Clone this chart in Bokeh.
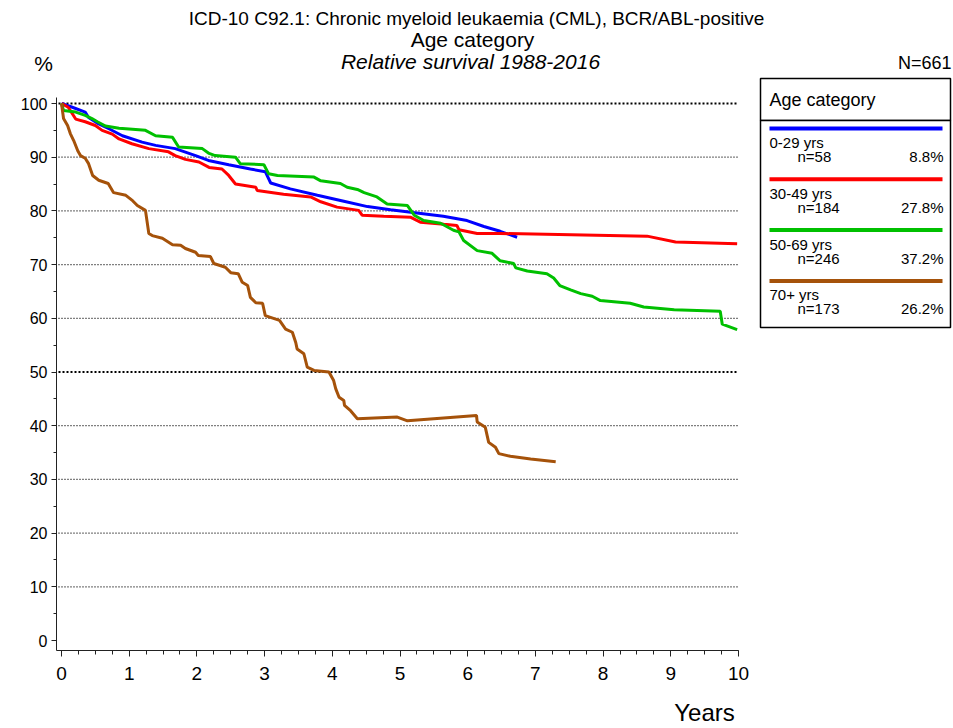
from bokeh.plotting import figure
from bokeh.models import Range1d, Label, SingleIntervalTicker, LinearAxis
from bokeh.embed import file_html
from bokeh.resources import INLINE

# ---------------- data ----------------
title_lines = ["ICD-10 C92.1: Chronic myeloid leukaemia (CML), BCR/ABL-positive",
               "Age category",
               "Relative survival 1988-2016"]
total_n = "N=661"
legend_title = "Age category"
groups = ["0-29 yrs", "30-49 yrs", "50-69 yrs", "70+ yrs"]
group_n = [58, 184, 246, 173]
group_pct = ["8.8%", "27.8%", "37.2%", "26.2%"]
colors = ["#0000FF", "#FF0000", "#00C000", "#A5520A"]

blue_x = [0, 0.16, 0.35, 0.40, 0.55, 0.70, 0.90, 1.19, 1.39, 1.68, 1.98, 2.17, 2.47, 2.79, 3.01,
          3.09, 3.38, 3.78, 4.17, 4.52, 4.86, 5.25, 5.64, 5.99, 6.24, 6.48, 6.73]
blue_y = [100, 99.3, 98.4, 97.4, 96.2, 95.3, 94.0, 92.8, 92.2, 91.6, 90.3, 89.4, 88.6, 87.8, 87.3,
          85.2, 84.1, 82.9, 81.8, 80.8, 80.2, 79.6, 79.0, 78.2, 77.1, 76.2, 75.1]

red_x = [0, 0.10, 0.16, 0.21, 0.35, 0.50, 0.60, 0.75, 0.85, 1.04, 1.29, 1.58, 1.68, 1.83, 2.03,
         2.18, 2.37, 2.47, 2.57, 2.87, 2.89, 3.28, 3.68, 3.83, 4.07, 4.39, 4.44, 4.76, 5.16, 5.30,
         5.65, 5.84, 5.87, 6.14, 6.48, 8.65, 9.07, 9.98]
red_y = [100, 99.3, 98.1, 97.1, 96.6, 95.9, 95.0, 94.3, 93.4, 92.5, 91.6, 91.0, 90.3, 89.6, 89.1,
         88.1, 87.8, 86.6, 85.0, 84.4, 83.8, 83.1, 82.6, 81.7, 80.7, 80.1, 79.2, 79.0, 78.8, 77.9,
         77.5, 77.3, 76.5, 75.8, 75.8, 75.3, 74.2, 73.9]

green_x = [0, 0.03, 0.21, 0.35, 0.45, 0.53, 0.65, 0.85, 0.95, 1.24, 1.39, 1.64, 1.73, 2.08, 2.18,
           2.27, 2.57, 2.64, 2.99, 3.06, 3.19, 3.73, 3.83, 4.12, 4.22, 4.37, 4.47, 4.66, 4.81, 5.11,
           5.21, 5.35, 5.60, 5.79, 5.87, 5.94, 6.14, 6.36, 6.48, 6.68, 6.71, 6.88, 7.17, 7.27, 7.36,
           7.52, 7.67, 7.84, 7.96, 8.40, 8.60, 9.05, 9.73, 9.76, 9.98]
green_y = [100, 98.7, 98.4, 97.8, 97.2, 96.6, 95.8, 95.4, 95.3, 95.0, 94.0, 93.7, 91.9, 91.6, 90.7,
           90.3, 90.0, 88.8, 88.6, 86.9, 86.6, 86.3, 85.6, 85.1, 84.4, 84.0, 83.4, 82.6, 81.3, 81.0,
           79.2, 78.2, 77.7, 76.4, 76.1, 74.5, 72.6, 72.1, 70.7, 70.2, 69.4, 68.8, 68.3, 67.5, 66.1,
           65.3, 64.6, 64.1, 63.3, 62.8, 62.1, 61.6, 61.3, 58.9, 57.9]

brown_x = [0, 0.03, 0.09, 0.13, 0.18, 0.24, 0.28, 0.35, 0.40, 0.46, 0.55, 0.69, 0.77, 0.95, 1.05,
           1.12, 1.24, 1.29, 1.34, 1.49, 1.64, 1.76, 1.83, 1.98, 2.02, 2.20, 2.25, 2.42, 2.50, 2.61,
           2.67, 2.75, 2.79, 2.87, 2.97, 3.01, 3.22, 3.31, 3.41, 3.46, 3.48, 3.58, 3.63, 3.73, 3.95,
           4.02, 4.05, 4.10, 4.17, 4.18, 4.27, 4.37, 4.96, 5.11, 6.13, 6.14, 6.26, 6.31, 6.41, 6.46,
           6.63, 6.93, 7.30]
brown_y = [100, 97.2, 95.9, 94.4, 93.1, 91.2, 90.3, 89.8, 88.8, 86.6, 85.7, 85.1, 83.4, 82.9, 81.9,
           81.0, 80.1, 75.8, 75.4, 74.9, 73.7, 73.6, 73.0, 72.3, 71.7, 71.5, 70.2, 69.5, 68.5, 68.3,
           66.7, 66.1, 63.9, 62.9, 62.8, 60.5, 59.6, 58.0, 57.4, 55.5, 54.3, 53.4, 50.9, 50.3, 50.0,
           48.4, 46.9, 45.3, 44.7, 43.8, 42.8, 41.3, 41.6, 40.9, 41.9, 40.7, 39.7, 36.9, 36.0, 34.8,
           34.3, 33.8, 33.3]

series_x = [blue_x, red_x, green_x, brown_x]
series_y = [blue_y, red_y, green_y, brown_y]

grid_levels = [10, 20, 30, 40, 60, 70, 80, 90]
bold_levels = [50, 100]
x_max = 10

FONT = "Liberation Sans"

# ------------- geometry helpers (canvas px -> data) -------------
W, H = 952, 726
X0, XS = 61.0, 67.7      # px of year 0, px per year
Y0, YS = 640.0, 5.37     # px of 0 %, px per %


def dx(px):
    return (px - X0) / XS


def dy(py):
    return (Y0 - py) / YS


p = figure(width=W, height=H, output_backend="svg", toolbar_location=None,
           x_range=Range1d(dx(0), dx(W)), y_range=Range1d(dy(H), dy(0)),
           x_axis_location=None, y_axis_location=None,
           min_border=0, min_border_left=0, min_border_right=0, min_border_top=0, min_border_bottom=0)
p.outline_line_color = None
p.background_fill_color = "white"
p.border_fill_color = "white"
p.grid.visible = False

# axes placed at fixed locations inside the frame
xaxis = LinearAxis(fixed_location=dy(650), bounds=(dx(56), x_max),
                   ticker=SingleIntervalTicker(interval=1, num_minor_ticks=4))
yaxis = LinearAxis(fixed_location=dx(56), bounds=(dy(650), dy(97)),
                   ticker=SingleIntervalTicker(interval=10, num_minor_ticks=2))
for ax in (xaxis, yaxis):
    ax.axis_line_color = "#222222"
    ax.axis_line_width = 1
    ax.major_tick_line_color = "#222222"
    ax.minor_tick_line_color = "#222222"
    ax.major_tick_in = 0
    ax.minor_tick_in = 0
    ax.major_label_text_font = FONT
    ax.major_label_text_color = "black"
xaxis.major_label_text_font_size = "19px"
yaxis.major_label_text_font_size = "16px"
xaxis.major_tick_out = 6
xaxis.minor_tick_out = 4
yaxis.major_tick_out = 5
yaxis.minor_tick_out = 3
xaxis.major_label_standoff = 10
yaxis.major_label_standoff = 4
p.add_layout(xaxis, "below")
p.add_layout(yaxis, "left")

# dotted reference lines
gx0 = dx(58)
p.segment(x0=[gx0] * len(grid_levels), y0=grid_levels, x1=[x_max] * len(grid_levels), y1=grid_levels,
          line_color="black", line_width=1.2, line_dash="1 2")
p.segment(x0=[gx0] * len(bold_levels), y0=bold_levels, x1=[x_max] * len(bold_levels), y1=bold_levels,
          line_color="black", line_width=2, line_dash="2 2")

# curves
for xs, ys, c in zip(series_x, series_y, colors):
    p.line(xs, ys, line_color=c, line_width=3)


# titles and texts
def label(px, py, text, size, align="center", style="normal"):
    p.add_layout(Label(x=dx(px), y=dy(py), text=text, text_align=align, text_baseline="middle",
                       text_font=FONT, text_font_size=size, text_font_style=style, text_color="black"))


label(476, 18, title_lines[0], "19px")
label(472, 39, title_lines[1], "21px")
label(470, 61, title_lines[2], "21px", style="italic")
label(43, 63, "%", "21px")
label(951, 62, total_n, "18px", align="right")
label(704, 712, "Years", "24px")

# legend box
LL, LR = 760, 950
p.quad(left=[dx(LL)], right=[dx(LR)], top=[dy(78)], bottom=[dy(120)],
       fill_color="white", line_color="black", line_width=1.5)
p.quad(left=[dx(LL)], right=[dx(LR)], top=[dy(120)], bottom=[dy(327)],
       fill_color="white", line_color="black", line_width=1.5)
label(769, 99, legend_title, "18px", align="left")
for i, (g, n, pc, c) in enumerate(zip(groups, group_n, group_pct, colors)):
    base = 128 + i * 50.8
    p.segment(x0=[dx(769)], y0=[dy(base)], x1=[dx(942)], y1=[dy(base)], line_color=c, line_width=4)
    label(769, base + 14, g, "15px", align="left")
    label(797, base + 28, f"n={n}", "15px", align="left")
    label(943, base + 28, pc, "15px", align="right")

open("out.html", "w").write(file_html(p, INLINE))
